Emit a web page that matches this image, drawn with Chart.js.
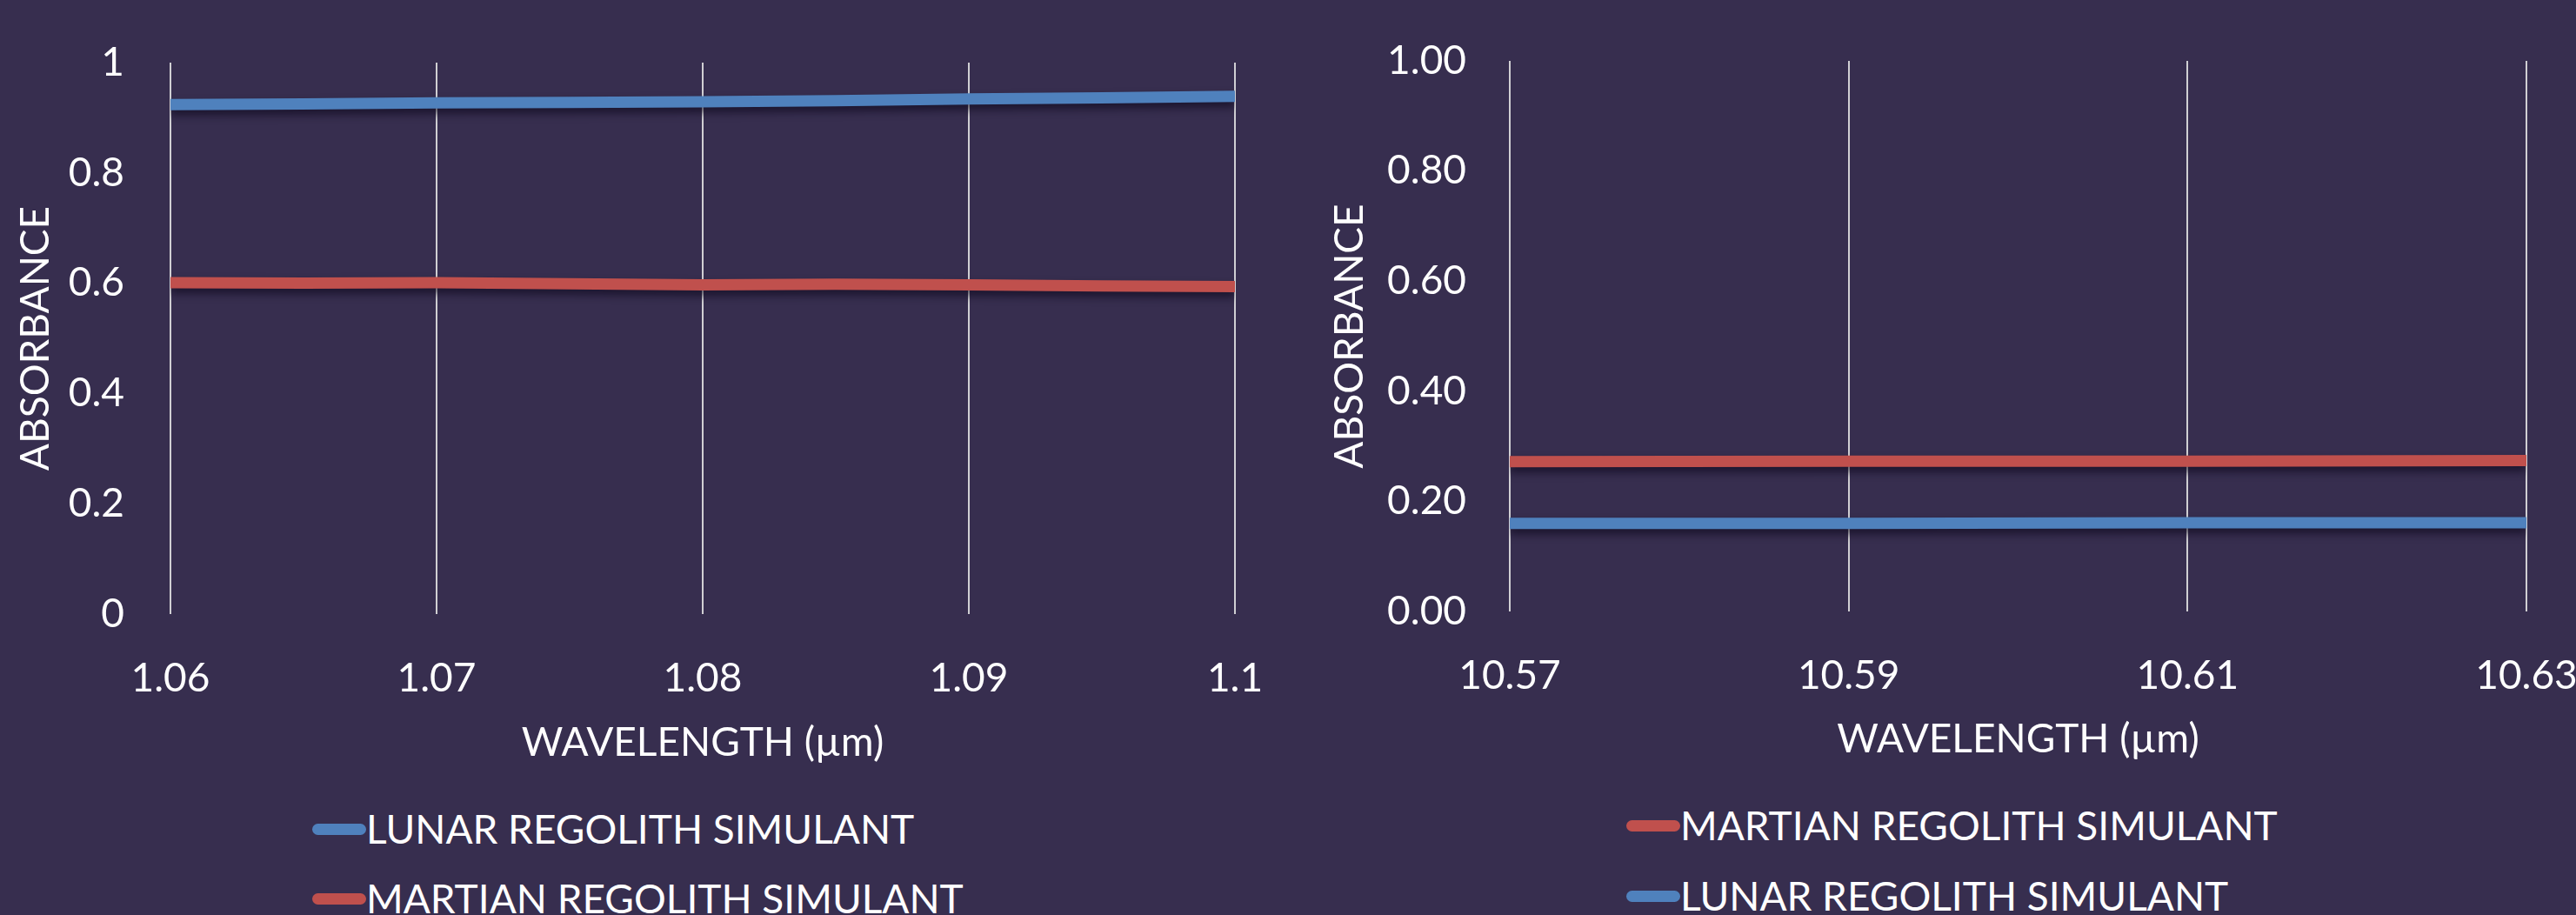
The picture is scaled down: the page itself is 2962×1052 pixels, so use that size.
<!DOCTYPE html>
<html>
<head>
<meta charset="utf-8">
<script src="https://cdn.jsdelivr.net/npm/chart.js@4.4.1/dist/chart.umd.min.js"></script>
<style>
  html, body { margin: 0; padding: 0; background: #372E4F; }
  body { width: 2962px; height: 1052px; position: relative; overflow: hidden; font-family: Lato, "Open Sans", sans-serif; }
  .box { position: absolute; top: 0; width: 1481px; height: 900px; }
  .legend { position: absolute; color: #fff; font-size: 46px; line-height: 1; }
  .legend .row { position: absolute; left: 0; display: flex; align-items: center; white-space: nowrap; height: 60px; }
  .legend .mark { width: 62px; height: 13px; border-radius: 7px; }
</style>
</head>
<body>
<div class="box" style="left:0"><canvas id="leftChart"></canvas></div>
<div class="box" style="left:1481px"><canvas id="rightChart"></canvas></div>
<div class="legend" id="leftLegend" style="left:359px; top:0"></div>
<div class="legend" id="rightLegend" style="left:1870px; top:0"></div>
<script>
// Near-IR panel (1.06 - 1.1 µm)
const nirWavelength = [1.06, 1.065, 1.07, 1.075, 1.08, 1.085, 1.09, 1.095, 1.1];
const nirLunar      = [0.924, 0.925, 0.927, 0.928, 0.929, 0.931, 0.934, 0.936, 0.939];
const nirMartian    = [0.601, 0.600, 0.601, 0.599, 0.597, 0.598, 0.597, 0.595, 0.594];
const nirXTicks  = [1.06, 1.07, 1.08, 1.09, 1.1];
const nirXLabels = ['1.06', '1.07', '1.08', '1.09', '1.1'];
const nirYLabels = ['0', '0.2', '0.4', '0.6', '0.8', '1'];

// Far-IR panel (10.57 - 10.63 µm)
const firWavelength = [10.57, 10.59, 10.61, 10.63];
const firMartian    = [0.272, 0.273, 0.273, 0.274];
const firLunar      = [0.160, 0.160, 0.161, 0.161];
const firXTicks  = [10.57, 10.59, 10.61, 10.63];
const firXLabels = ['10.57', '10.59', '10.61', '10.63'];
const firYLabels = ['0.00', '0.20', '0.40', '0.60', '0.80', '1.00'];

const BLUE = '#4F81BD';
const RED = '#C0504D';
const FONT = { family: 'Lato, "Open Sans", sans-serif', size: 46 };

Chart.defaults.color = '#ffffff';
Chart.defaults.font.family = FONT.family;

// soft shadow under the lines
const lineShadow = {
    id: 'lineShadow',
    beforeDatasetsDraw(chart) {
        const ctx = chart.ctx;
        ctx.save();
        ctx.shadowColor = 'rgba(10,5,25,0.6)';
        ctx.shadowBlur = 10;
        ctx.shadowOffsetY = 6;
    },
    afterDatasetsDraw(chart) { chart.ctx.restore(); }
};

function points(xs, ys) {
    return xs.map((x, i) => ({ x: x, y: ys[i] }));
}

function makeChart(id, sets, xTicks, xLabels, yLabels, box) {
    return new Chart(document.getElementById(id), {
        type: 'line',
        data: {
            datasets: sets.map(s => ({
                label: s.label, data: s.data,
                borderColor: s.color, backgroundColor: s.color,
                borderWidth: 13, pointRadius: 0, tension: 0, borderCapStyle: 'butt'
            }))
        },
        options: {
            responsive: true, maintainAspectRatio: false, animation: false,
            layout: { padding: { left: 0, top: box.top, right: box.right, bottom: 0 } },
            plugins: { legend: { display: false }, tooltip: { enabled: false } },
            scales: {
                x: {
                    type: 'linear', min: xTicks[0], max: xTicks[xTicks.length - 1],
                    afterBuildTicks: s => { s.ticks = xTicks.map(v => ({ value: v })); },
                    // fixed axis box so the plot area lines up with the original
                    afterFit: s => { s.height = box.xHeight; s.paddingLeft = 0; s.paddingRight = 0; },
                    grid: { color: 'rgba(225,225,225,0.9)', lineWidth: 2, drawTicks: false },
                    border: { display: false },
                    ticks: { font: FONT, padding: 47, maxRotation: 0, callback: (v, i) => xLabels[i] },
                    title: { display: true, text: 'WAVELENGTH (µm)', font: FONT, padding: { bottom: box.xTitlePad } }
                },
                y: {
                    min: 0, max: 1,
                    afterBuildTicks: s => { s.ticks = yLabels.map((t, i) => ({ value: i * 0.2 })); },
                    afterFit: s => { s.width = box.yWidth; s.paddingTop = 0; s.paddingBottom = 0; },
                    grid: { display: false, drawTicks: false },
                    border: { display: false },
                    ticks: { font: FONT, padding: box.yTickPad, callback: (v, i) => yLabels[i] },
                    title: { display: true, text: 'ABSORBANCE', font: FONT, padding: { top: box.yTitlePad } }
                }
            }
        },
        plugins: [lineShadow]
    });
}

function makeLegend(id, sets, rows) {
    const el = document.getElementById(id);
    sets.forEach((s, i) => {
        const row = document.createElement('div');
        row.className = 'row';
        row.style.top = (rows[i] - 30) + 'px';
        row.innerHTML = `<span class="mark" style="background:${s.color}"></span><span>${s.label}</span>`;
        el.appendChild(row);
    });
}

const nirSets = [
    { label: 'LUNAR REGOLITH SIMULANT', data: points(nirWavelength, nirLunar), color: BLUE },
    { label: 'MARTIAN REGOLITH SIMULANT', data: points(nirWavelength, nirMartian), color: RED }
];
const firSets = [
    { label: 'MARTIAN REGOLITH SIMULANT', data: points(firWavelength, firMartian), color: RED },
    { label: 'LUNAR REGOLITH SIMULANT', data: points(firWavelength, firLunar), color: BLUE }
];

makeChart('leftChart', nirSets, nirXTicks, nirXLabels, nirYLabels,
    { top: 72, right: 61, xHeight: 194, yWidth: 196, yTickPad: 53, yTitlePad: 14, xTitlePad: 18 });
makeChart('rightChart', firSets, firXTicks, firXLabels, firYLabels,
    { top: 70, right: 57, xHeight: 197, yWidth: 255, yTickPad: 50, yTitlePad: 44, xTitlePad: 22 });

makeLegend('leftLegend', nirSets, [953, 1033]);
makeLegend('rightLegend', firSets, [949, 1030]);
</script>
</body>
</html>
